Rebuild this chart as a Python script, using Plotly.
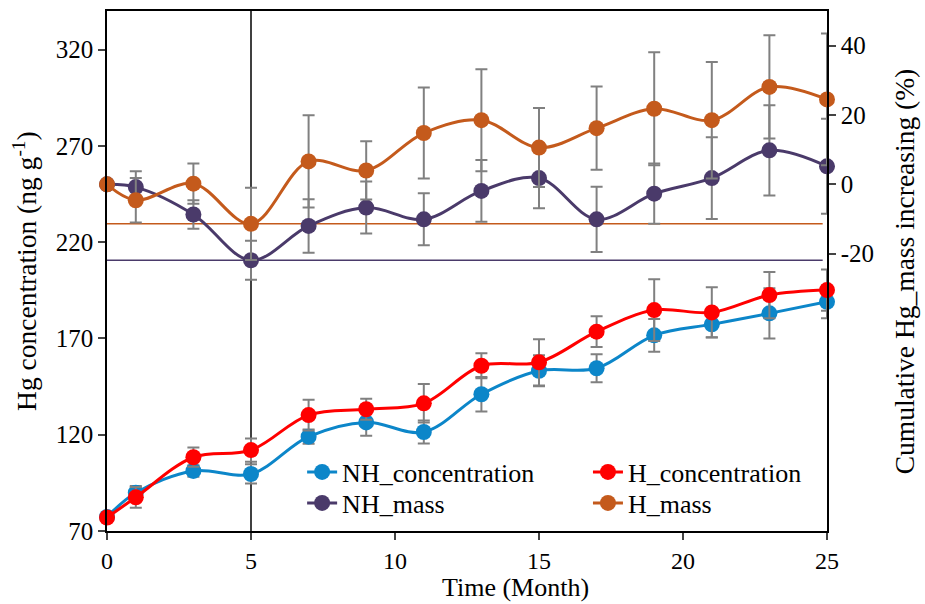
import plotly.graph_objects as go

months = [0, 1, 3, 5, 7, 9, 11, 13, 15, 17, 19, 21, 23, 25]

nh_conc = [77.3, 89.9, 101.2, 99.6, 119.0, 126.4, 121.4, 141.0, 153.2, 154.5, 171.6, 177.3, 183.0, 189.0]
nh_conc_err = [0, 3.5, 3.0, 5.0, 3.7, 7.0, 6.0, 9.0, 8.0, 7.3, 8.5, 6.7, 13.0, 8.5]

h_conc = [77.0, 87.5, 108.3, 112.0, 130.2, 133.2, 136.3, 155.8, 157.6, 173.5, 184.7, 183.5, 192.5, 195.1]
h_conc_err = [0, 5.4, 5.0, 6.0, 8.0, 5.5, 10.0, 6.5, 12.0, 8.0, 16.0, 13.0, 12.0, 10.7]

nh_mass = [0, -0.8, -8.7, -21.9, -12.0, -6.7, -10.1, -1.9, 1.8, -10.1, -2.7, 1.8, 9.8, 5.2]
nh_mass_err = [0, 4.6, 4.1, 5.6, 7.7, 7.5, 7.5, 8.9, 8.7, 9.4, 8.7, 11.8, 13.0, 13.7]

h_mass = [0, -4.6, 0.2, -11.4, 6.6, 4.0, 14.8, 18.5, 10.6, 16.2, 21.8, 18.5, 28.1, 24.5]
h_mass_err = [0, 6.4, 5.8, 10.4, 13.3, 8.4, 13.1, 14.7, 11.4, 12.0, 16.3, 16.8, 14.9, 19.0]

left_ticks = [70, 120, 170, 220, 270, 320]
right_ticks = [-20, 0, 20, 40]
right_tick_text = ["-20", "0", "20", "40"]
x_ticks = [0, 5, 10, 15, 20, 25]

x_title = "Time (Month)"
y_title = "Hg concentration (ng g<sup>-1</sup>)"
y2_title = "Cumulative Hg_mass increasing (%)"

FONT = "Times New Roman, Liberation Serif, DejaVu Serif, serif"
BLUE = "#0c86c9"
RED = "#ff0000"
PURPLE = "#4a3a6a"
ORANGE = "#c45a1c"
ERR = dict(type="data", visible=True, color="#808080", thickness=2, width=6)


def trace(name, y, err, color, yaxis, legend):
    return go.Scatter(
        x=months, y=y, name=name, mode="lines+markers",
        line=dict(color=color, width=3, shape="spline"),
        marker=dict(color=color, size=16),
        error_y=dict(array=err, **ERR),
        yaxis=yaxis, legend=legend, cliponaxis=False,
    )


fig = go.Figure()
fig.add_trace(trace("NH_mass", nh_mass, nh_mass_err, PURPLE, "y2", "legend3"))
fig.add_trace(trace("H_mass", h_mass, h_mass_err, ORANGE, "y2", "legend4"))
fig.add_trace(trace("NH_concentration", nh_conc, nh_conc_err, BLUE, "y", "legend"))
fig.add_trace(trace("H_concentration", h_conc, h_conc_err, RED, "y", "legend2"))

# reference lines at minimum cumulative mass values
fig.add_shape(type="line", xref="x", yref="y2", x0=0, x1=24.85,
              y0=min(h_mass), y1=min(h_mass), line=dict(color=ORANGE, width=1.5), layer="below")
fig.add_shape(type="line", xref="x", yref="y2", x0=0, x1=24.85,
              y0=min(nh_mass), y1=min(nh_mass), line=dict(color=PURPLE, width=1.5), layer="below")
fig.add_shape(type="line", xref="x", yref="paper", x0=5, x1=5, y0=0, y1=1,
              line=dict(color="black", width=1.5), layer="below")

# axis titles as annotations for exact placement
fig.add_annotation(text=x_title, xref="paper", yref="paper", x=0.568, y=-0.1404,
                   xanchor="center", yanchor="bottom", showarrow=False,
                   font=dict(family=FONT, size=26, color="black"))
fig.add_annotation(text=y_title, xref="paper", yref="paper", x=-0.114, y=0.5,
                   xanchor="center", yanchor="middle", showarrow=False, textangle=-90,
                   font=dict(family=FONT, size=27.5, color="black"))
fig.add_annotation(text=y2_title, xref="paper", yref="paper", x=1.108, y=0.499,
                   xanchor="center", yanchor="middle", showarrow=False, textangle=-90,
                   font=dict(family=FONT, size=27.5, color="black"))

leg = dict(xanchor="left", yanchor="middle", bgcolor="rgba(0,0,0,0)",
           font=dict(family=FONT, size=26, color="black"))

fig.update_layout(
    template="none",
    width=925, height=604,
    margin=dict(l=107, r=98, t=11, b=73),
    paper_bgcolor="white", plot_bgcolor="white",
    font=dict(family=FONT, size=25, color="black"),
    xaxis=dict(
        range=[0, 25], tickvals=x_ticks, ticks="outside", ticklen=7, tickwidth=1.5,
        showline=True, linecolor="black", linewidth=1.5, mirror=True,
        showgrid=False, zeroline=False,
        tickfont=dict(family=FONT, size=24),
    ),
    yaxis=dict(
        range=[70, 340], tickvals=left_ticks, ticks="outside", ticklen=7, tickwidth=1.5,
        showline=True, linecolor="black", linewidth=1.5,
        showgrid=False, zeroline=False,
        tickfont=dict(family=FONT, size=25),
    ),
    yaxis2=dict(
        range=[-100, 50], tickvals=right_ticks, ticktext=right_tick_text,
        ticks="outside", ticklen=7, tickwidth=1.5,
        overlaying="y", side="right",
        showline=True, linecolor="black", linewidth=1.5,
        showgrid=False, zeroline=False,
        tickfont=dict(family=FONT, size=25),
    ),
    legend=dict(x=0.271, y=0.1135, **leg),
    legend2=dict(x=0.668, y=0.1135, **leg),
    legend3=dict(x=0.271, y=0.0538, **leg),
    legend4=dict(x=0.668, y=0.0538, **leg),
    showlegend=True,
)

fig.write_html("out.html")
